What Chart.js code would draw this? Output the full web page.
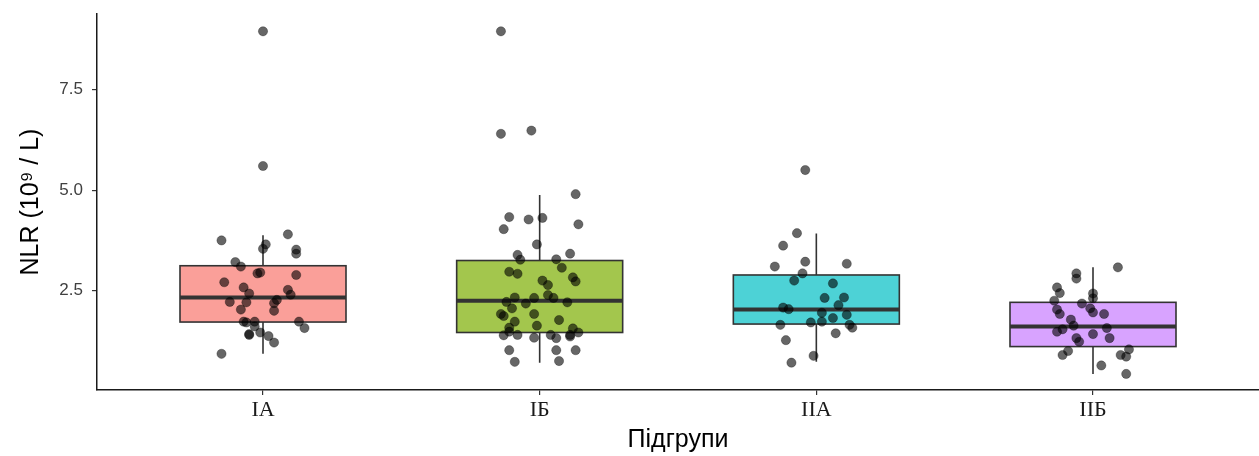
<!DOCTYPE html>
<html>
<head>
<meta charset="utf-8">
<script src="https://cdn.jsdelivr.net/npm/chart.js@4.4.0/dist/chart.umd.min.js"></script>
<style>
    html, body { margin: 0; padding: 0; background: #ffffff; }
</style>
</head>
<body>
<canvas id="graficoNLR" width="1259" height="456"></canvas>
<script>
// підгрупи
const groups = ['IA', 'IБ', 'IIA', 'IIБ'];
const boxColors = ['#FA9F99', '#A3C64D', '#4DD2D6', '#D8A3FF'];

// box statistics
const whiskLow  = [0.93, 0.71, 0.73, 0.43];
const q1        = [1.72, 1.46, 1.67, 1.11];
const medians   = [2.33, 2.25, 2.03, 1.61];
const q3        = [3.12, 3.25, 2.89, 2.21];
const whiskHigh = [3.88, 4.88, 3.92, 3.08];

const yTicks = [2.5, 5.0, 7.5];

// jittered points: x (group position + jitter), y (NLR)
const iaX = [1.00, 1.00, 0.85, 1.09, 1.01, 1.00, 1.12, 1.12, 0.90, 0.92, 0.98, 0.99, 1.12, 0.86, 0.93, 0.95, 1.09, 1.10, 0.88, 0.94, 1.05, 1.04, 0.92, 1.04, 0.93, 0.94, 0.97, 1.13, 1.15, 0.97, 0.99, 0.95, 0.95, 1.02, 1.04, 0.85];
const iaY = [5.60, 8.95, 3.75, 3.90, 3.65, 3.54, 3.52, 3.42, 3.21, 3.10, 2.93, 2.95, 2.89, 2.71, 2.58, 2.43, 2.52, 2.40, 2.22, 2.21, 2.27, 2.19, 2.03, 2.00, 1.73, 1.71, 1.73, 1.73, 1.57, 1.61, 1.46, 1.40, 1.42, 1.37, 1.21, 0.93];

const ibX = [1.86, 1.86, 1.97, 2.13, 1.89, 1.96, 2.01, 1.87, 2.14, 1.99, 1.92, 1.93, 2.11, 2.06, 2.08, 1.89, 1.92, 2.12, 2.13, 2.01, 2.03, 2.03, 2.05, 1.91, 1.98, 1.95, 1.88, 2.10, 1.90, 1.86, 1.87, 1.98, 2.07, 1.91, 1.99, 1.89, 1.89, 2.12, 1.87, 1.92, 1.98, 2.04, 2.06, 2.11, 2.11, 2.14, 1.89, 2.06, 2.13, 1.91, 2.07];
const ibY = [8.95, 6.40, 6.48, 4.90, 4.33, 4.27, 4.31, 4.03, 4.15, 3.65, 3.39, 3.27, 3.42, 3.28, 3.07, 2.97, 2.92, 2.83, 2.73, 2.75, 2.64, 2.39, 2.32, 2.33, 2.32, 2.18, 2.22, 2.21, 2.06, 1.92, 1.87, 1.92, 1.77, 1.73, 1.63, 1.58, 1.48, 1.56, 1.39, 1.40, 1.33, 1.40, 1.32, 1.36, 1.40, 1.46, 1.02, 1.02, 1.02, 0.73, 0.75];

const iiaX = [2.96, 2.93, 2.88, 2.85, 2.96, 2.95, 3.11, 2.92, 3.06, 3.03, 3.10, 3.08, 2.88, 2.90, 3.02, 3.11, 3.06, 2.98, 3.02, 2.87, 3.12, 3.13, 3.07, 2.89, 2.99, 2.91];
const iiaY = [5.50, 3.93, 3.62, 3.10, 3.22, 2.93, 3.17, 2.75, 2.68, 2.32, 2.33, 2.14, 2.08, 2.04, 1.95, 1.90, 1.82, 1.71, 1.73, 1.65, 1.65, 1.58, 1.44, 1.27, 0.88, 0.71];

const iibX = [4.09, 3.94, 3.94, 3.87, 3.88, 4.00, 4.00, 3.86, 3.96, 3.99, 4.00, 3.87, 3.88, 4.04, 3.92, 3.93, 3.89, 3.87, 4.05, 4.00, 4.06, 3.94, 3.95, 3.91, 3.89, 4.13, 4.10, 4.12, 4.03, 4.12];
const iibY = [3.08, 2.93, 2.80, 2.58, 2.44, 2.43, 2.31, 2.25, 2.18, 2.06, 1.96, 2.03, 1.92, 1.92, 1.78, 1.63, 1.54, 1.48, 1.57, 1.42, 1.32, 1.32, 1.23, 1.00, 0.90, 1.04, 0.90, 0.86, 0.64, 0.43];

const pointsX = [iaX, ibX, iiaX, iibX];
const pointsY = [iaY, ibY, iiaY, iibY];

const boxHalf = 0.3;

// box + whiskers drawn under the points, with the chart's scales
const boxPlugin = {
    id: 'cajas',
    beforeDatasetsDraw(chart) {
        const ctx = chart.ctx;
        const xs = chart.scales.x, ys = chart.scales.y;
        ctx.save();
        groups.forEach(function(g, i) {
            const c = xs.getPixelForValue(i + 1);
            const left = xs.getPixelForValue(i + 1 - boxHalf);
            const right = xs.getPixelForValue(i + 1 + boxHalf);
            const top = ys.getPixelForValue(q3[i]);
            const bottom = ys.getPixelForValue(q1[i]);
            ctx.strokeStyle = '#333333';
            ctx.lineWidth = 1.6;
            ctx.beginPath();
            ctx.moveTo(c, ys.getPixelForValue(whiskHigh[i]));
            ctx.lineTo(c, top);
            ctx.moveTo(c, bottom);
            ctx.lineTo(c, ys.getPixelForValue(whiskLow[i]));
            ctx.stroke();
            ctx.fillStyle = boxColors[i];
            ctx.fillRect(left, top, right - left, bottom - top);
            ctx.strokeRect(left, top, right - left, bottom - top);
            const m = ys.getPixelForValue(medians[i]);
            ctx.lineWidth = 4;
            ctx.beginPath();
            ctx.moveTo(left, m);
            ctx.lineTo(right, m);
            ctx.stroke();
        });
        ctx.restore();
    }
};

const datasets = groups.map(function(g, i) {
    return {
        label: g,
        data: pointsX[i].map(function(x, j) { return { x: x, y: pointsY[i][j] }; }),
        pointRadius: 4.6,
        pointBackgroundColor: 'rgba(0,0,0,0.6)',
        pointBorderColor: 'rgba(0,0,0,0.5)',
        pointBorderWidth: 0.6,
        showLine: false
    };
});

const ctx = document.getElementById('graficoNLR');

new Chart(ctx, {
    type: 'scatter',
    data: { datasets: datasets },
    plugins: [boxPlugin],
    options: {
        responsive: false,
        animation: false,
        devicePixelRatio: 1,
        layout: { autoPadding: false, padding: { top: 14, right: 0, left: 0, bottom: 0 } },
        plugins: {
            legend: { display: false },
            tooltip: { enabled: false }
        },
        scales: {
            x: {
                type: 'linear',
                min: 0.4,
                max: 4.6,
                afterBuildTicks: function(s) { s.ticks = [1, 2, 3, 4].map(function(v) { return { value: v }; }); },
                afterFit: function(s) { s.height = 66; s.paddingLeft = 0; s.paddingRight = 0; },
                ticks: {
                    autoSkip: false,
                    maxRotation: 0,
                    padding: 2,
                    color: '#1a1a1a',
                    font: { family: '"Liberation Serif", "Times New Roman", serif', size: 22 },
                    callback: function(v) { return groups[v - 1]; }
                },
                grid: { display: true, drawOnChartArea: false, tickLength: 5, color: '#333333', lineWidth: 1.2 },
                border: { display: true, color: '#1a1a1a', width: 1.5 },
                title: {
                    display: true,
                    text: 'Підгрупи',
                    color: '#000000',
                    font: { family: '"Liberation Sans", Arial, sans-serif', size: 25 },
                    padding: { top: 0, bottom: 1 }
                }
            },
            y: {
                type: 'linear',
                min: 0.03,
                max: 9.38,
                afterBuildTicks: function(s) { s.ticks = yTicks.map(function(v) { return { value: v }; }); },
                afterFit: function(s) { s.width = 97; s.paddingTop = 0; s.paddingBottom = 0; },
                ticks: {
                    padding: 9,
                    color: '#404040',
                    font: { family: '"Liberation Sans", Arial, sans-serif', size: 17 },
                    callback: function(v) { return v.toFixed(1); }
                },
                grid: { display: true, drawOnChartArea: false, tickLength: 5, color: '#333333', lineWidth: 1.2 },
                border: { display: true, color: '#1a1a1a', width: 1.5 },
                title: {
                    display: true,
                    text: 'NLR (10⁹ / L)',
                    color: '#000000',
                    font: { family: '"Liberation Sans", Arial, sans-serif', size: 25 },
                    padding: { top: 16, bottom: 0 }
                }
            }
        }
    }
});
</script>
</body>
</html>
